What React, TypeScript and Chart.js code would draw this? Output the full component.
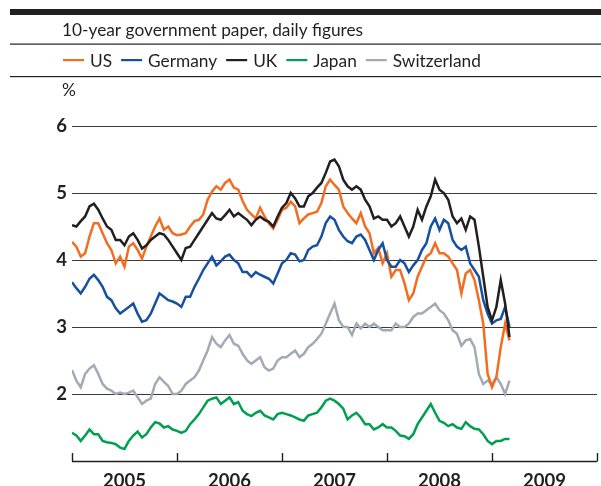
import React, { useEffect, useRef } from 'react';
import { Chart, registerables } from 'chart.js';

Chart.register(...registerables);

const TITLE = '10-year government paper, daily figures';
const UNIT = '%';
const SERIES_NAMES = ['US', 'Germany', 'UK', 'Japan', 'Switzerland'];
const SERIES_COLORS = ['#f26d21', '#1650a0', '#231f20', '#00a04f', '#a2abb3'];
const YEAR_LABELS = ['2005', '2006', '2007', '2008', '2009'];
const YEAR_BOUNDS = [2005, 2006, 2007, 2008, 2009, 2010];
const Y_TICKS = [2, 3, 4, 5, 6];
const START_YEAR = 2005;
const SAMPLES_PER_YEAR = 24; // semi-monthly readings

const US = [
  4.27, 4.2, 4.05, 4.1, 4.35, 4.55, 4.55, 4.4, 4.25, 4.15, 3.95, 4.05, 3.9, 4.2, 4.25, 4.15, 4.02, 4.2, 4.35, 4.5, 4.62, 4.45, 4.5, 4.4, 4.37,
  4.38, 4.4, 4.5, 4.58, 4.6, 4.68, 4.9, 5.02, 5.1, 5.05, 5.15, 5.2, 5.08, 5.05, 4.88, 4.75, 4.68, 4.62, 4.78, 4.65, 4.55, 4.47, 4.6,
  4.75, 4.78, 4.87, 4.8, 4.55, 4.62, 4.68, 4.7, 4.72, 4.85, 5.1, 5.2, 5.12, 5.05, 4.8, 4.7, 4.62, 4.55, 4.7, 4.5, 4.4, 4.1, 4.18, 3.95,
  4.1, 3.75, 3.85, 3.85, 3.65, 3.4, 3.5, 3.75, 3.9, 4.05, 4.1, 4.25, 4.1, 4.1, 4.05, 3.95, 3.85, 3.5, 3.8, 3.85, 3.7, 3.4, 3.05, 2.3, 2.1, 2.25, 2.7, 3.05, 2.8,
];
const GERMANY = [
  3.67, 3.58, 3.5, 3.6, 3.72, 3.78, 3.7, 3.6, 3.45, 3.4, 3.28, 3.2, 3.25, 3.3, 3.35, 3.2, 3.08, 3.1, 3.2, 3.35, 3.5, 3.45, 3.4, 3.38, 3.35,
  3.3, 3.45, 3.45, 3.6, 3.72, 3.85, 3.95, 4.05, 3.92, 3.98, 4.05, 4.08, 4.0, 3.95, 3.82, 3.82, 3.75, 3.82, 3.78, 3.75, 3.72, 3.65, 3.8,
  3.95, 4.0, 4.1, 4.08, 3.98, 4.0, 4.15, 4.2, 4.22, 4.35, 4.55, 4.65, 4.6, 4.45, 4.35, 4.28, 4.25, 4.35, 4.38, 4.3, 4.15, 4.0, 4.15, 4.25,
  4.0, 3.9, 3.9, 4.0, 3.95, 3.82, 3.92, 4.0, 4.15, 4.25, 4.5, 4.62, 4.45, 4.6, 4.55, 4.3, 4.2, 4.15, 4.2, 3.95, 3.85, 3.75, 3.4, 3.2, 3.05, 3.1, 3.12, 3.3, 3.0,
];
const UK = [
  4.52, 4.5, 4.58, 4.65, 4.8, 4.84, 4.75, 4.62, 4.5, 4.45, 4.3, 4.3, 4.22, 4.35, 4.4, 4.3, 4.17, 4.22, 4.3, 4.35, 4.4, 4.38, 4.3, 4.2, 4.1,
  4.0, 4.18, 4.2, 4.3, 4.4, 4.5, 4.6, 4.7, 4.62, 4.6, 4.67, 4.75, 4.65, 4.7, 4.65, 4.6, 4.52, 4.6, 4.65, 4.6, 4.57, 4.5, 4.65,
  4.78, 4.85, 5.0, 4.92, 4.8, 4.8, 4.95, 5.0, 5.08, 5.15, 5.3, 5.47, 5.5, 5.4, 5.2, 5.1, 5.05, 5.1, 5.05, 4.9, 4.8, 4.62, 4.65, 4.6,
  4.6, 4.5, 4.55, 4.65, 4.5, 4.35, 4.5, 4.75, 4.6, 4.8, 4.95, 5.2, 5.05, 5.0, 4.9, 4.65, 4.55, 4.62, 4.45, 4.65, 4.6, 4.2, 3.75, 3.3, 3.1, 3.3, 3.7, 3.35, 2.85,
];
const JAPAN = [
  1.42, 1.38, 1.3, 1.38, 1.47, 1.4, 1.4, 1.3, 1.28, 1.27, 1.25, 1.2, 1.18, 1.3, 1.38, 1.44, 1.35, 1.4, 1.5, 1.58, 1.56, 1.5, 1.52, 1.47, 1.45,
  1.42, 1.45, 1.55, 1.62, 1.7, 1.8, 1.9, 1.93, 1.95, 1.85, 1.9, 1.95, 1.85, 1.88, 1.75, 1.7, 1.67, 1.72, 1.75, 1.68, 1.65, 1.62, 1.7,
  1.72, 1.7, 1.68, 1.65, 1.62, 1.6, 1.68, 1.7, 1.72, 1.8, 1.9, 1.93, 1.9, 1.85, 1.78, 1.62, 1.68, 1.72, 1.65, 1.55, 1.55, 1.47, 1.5, 1.55,
  1.5, 1.5, 1.45, 1.38, 1.37, 1.33, 1.4, 1.55, 1.65, 1.75, 1.85, 1.72, 1.6, 1.57, 1.52, 1.55, 1.5, 1.48, 1.58, 1.52, 1.48, 1.47, 1.4, 1.3, 1.25, 1.3, 1.3, 1.33, 1.33,
];
const SWITZERLAND = [
  2.36, 2.2, 2.1, 2.3, 2.38, 2.43, 2.3, 2.15, 2.08, 2.05, 2.0, 2.02, 2.0, 2.02, 2.05, 1.95, 1.85, 1.9, 1.93, 2.15, 2.25, 2.18, 2.12, 2.0, 2.0,
  2.05, 2.15, 2.2, 2.25, 2.35, 2.5, 2.65, 2.85, 2.75, 2.7, 2.8, 2.88, 2.75, 2.72, 2.6, 2.5, 2.45, 2.5, 2.55, 2.4, 2.35, 2.38, 2.5,
  2.55, 2.55, 2.6, 2.65, 2.55, 2.6, 2.7, 2.75, 2.82, 2.9, 3.05, 3.2, 3.35, 3.1, 3.0, 3.0, 2.88, 3.05, 2.98, 3.05, 3.0, 3.05, 3.0, 2.95,
  2.95, 2.95, 3.05, 3.0, 3.0, 3.05, 3.15, 3.2, 3.2, 3.25, 3.3, 3.35, 3.25, 3.2, 3.1, 2.95, 2.9, 2.72, 2.8, 2.82, 2.7, 2.3, 2.15, 2.2, 2.15, 2.25, 2.15, 2.0, 2.2,
];

const SERIES_VALUES = [US, GERMANY, UK, JAPAN, SWITZERLAND];
// drawing order: first dataset is painted on top
const DRAW_ORDER = [2, 1, 0, 4, 3];

const FONT = 'Lato, "Noto Sans", sans-serif';
const INK = '#231f20';

const toPoints = (vals: number[]) =>
  vals.map((v, i) => ({ x: START_YEAR + i / SAMPLES_PER_YEAR, y: v }));

const headerPlugin = {
  id: 'header',
  beforeDraw(chart: any) {
    const ctx = chart.ctx as CanvasRenderingContext2D;
    ctx.save();
    ctx.fillStyle = INK;
    ctx.fillRect(10, 9, 591, 6);
    ctx.fillRect(10, 43.5, 591, 1.2);
    ctx.fillRect(10, 76, 591, 1.2);
    ctx.textBaseline = 'alphabetic';
    ctx.textAlign = 'left';
    ctx.font = `17.3px ${FONT}`;
    ctx.fillText(TITLE, 62, 36);
    // legend
    let x = 63;
    SERIES_NAMES.forEach((name, i) => {
      ctx.fillStyle = SERIES_COLORS[i];
      ctx.fillRect(x, 59, 21, 2.2);
      x += 27;
      ctx.fillStyle = INK;
      ctx.fillText(name, x, 66.5);
      x += ctx.measureText(name).width + 9;
    });
    ctx.fillText(UNIT, 62, 96);
    ctx.restore();
  },
  afterDatasetsDraw(chart: any) {
    const ctx = chart.ctx as CanvasRenderingContext2D;
    const xs = chart.scales.x;
    const bottom = chart.chartArea.bottom;
    ctx.save();
    ctx.strokeStyle = INK;
    ctx.lineWidth = 1.4;
    ctx.beginPath();
    ctx.moveTo(xs.left, bottom + 0.5);
    ctx.lineTo(xs.right, bottom + 0.5);
    YEAR_BOUNDS.forEach((yr) => {
      const px = Math.round(xs.getPixelForValue(yr)) + 0.5;
      ctx.moveTo(px, bottom + 0.5);
      ctx.lineTo(px, bottom - 8);
    });
    ctx.stroke();
    ctx.restore();
  },
};

export default function App() {
  const ref = useRef<HTMLCanvasElement | null>(null);
  useEffect(() => {
    if (!ref.current) return;
    const datasets = DRAW_ORDER.map((k) => ({
      label: SERIES_NAMES[k],
      data: toPoints(SERIES_VALUES[k]),
      borderColor: SERIES_COLORS[k],
      backgroundColor: SERIES_COLORS[k],
      borderWidth: 2.5,
      pointRadius: 0,
      tension: 0,
      fill: false,
    }));
    const chart = new Chart(ref.current, {
      type: 'line',
      data: { datasets },
      options: {
        responsive: false,
        animation: false,
        layout: { padding: { left: 0, right: 4, top: 126, bottom: 0 } },
        plugins: { legend: { display: false }, tooltip: { enabled: false }, title: { display: false } },
        scales: {
          x: {
            type: 'linear',
            min: YEAR_BOUNDS[0],
            max: YEAR_BOUNDS[YEAR_BOUNDS.length - 1],
            afterBuildTicks: (s: any) => {
              s.ticks = YEAR_LABELS.map((_, i) => ({ value: YEAR_BOUNDS[i] + 0.5 }));
            },
            afterFit: (s: any) => {
              s.height = 25;
            },
            ticks: {
              autoSkip: false,
              maxRotation: 0,
              padding: 9,
              color: INK,
              font: { family: FONT, size: 18.5, weight: 'bold' },
              callback: (_v: any, i: number) => YEAR_LABELS[i],
            },
            grid: { display: false, drawTicks: false },
            border: { display: false },
          },
          y: {
            type: 'linear',
            min: 1,
            max: 6,
            afterBuildTicks: (s: any) => {
              s.ticks = Y_TICKS.map((v) => ({ value: v }));
            },
            afterFit: (s: any) => {
              s.width = 72;
            },
            ticks: {
              padding: 5,
              color: INK,
              font: { family: FONT, size: 18.5, weight: 'bold' },
              callback: (v: any) => String(v),
            },
            grid: { color: '#3a3a3a', lineWidth: 1, drawTicks: false },
            border: { display: false },
          },
        },
      },
      plugins: [headerPlugin],
    } as any);
    return () => chart.destroy();
  }, []);
  return (
    <div style={{ position: 'absolute', left: 0, top: 0, width: 601, height: 486, background: '#fff' }}>
      <canvas ref={ref} width={601} height={486} style={{ display: 'block' }} />
    </div>
  );
}
